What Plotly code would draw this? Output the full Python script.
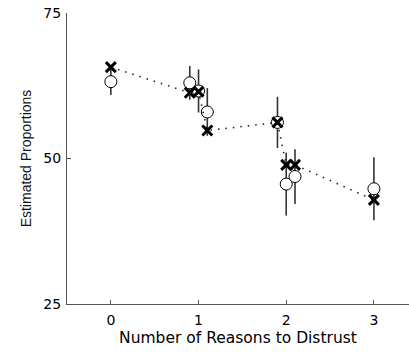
import plotly.graph_objects as go

# Data
x_pos = [0.0, 0.9, 1.0, 1.1, 1.9, 2.0, 2.1, 3.0]
predicted = [65.7, 61.3, 61.5, 54.8, 56.2, 48.9, 48.9, 42.9]
observed = [63.2, 63.0, 61.6, 58.0, 56.2, 45.6, 46.9, 44.8]
observed_err = [2.3, 2.9, 3.7, 4.1, 4.4, 5.4, 4.7, 5.4]
x_ticks = [0, 1, 2, 3]
y_ticks = [25, 50, 75]

fig = go.Figure()

fig.add_trace(go.Scatter(
    x=x_pos, y=observed, mode="markers",
    marker=dict(symbol="circle", size=12, color="white",
                line=dict(color="black", width=1)),
    error_y=dict(type="data", array=observed_err, visible=True,
                 width=0, thickness=1.6, color="#333333"),
    showlegend=False,
))

fig.add_trace(go.Scatter(
    x=x_pos, y=predicted, mode="lines+markers",
    line=dict(color="#222222", width=1.6, dash="1.5px,6px"),
    marker=dict(symbol="x-thin", size=10, color="black",
                line=dict(color="black", width=3)),
    showlegend=False,
))

fig.update_layout(
    width=409, height=354,
    margin=dict(l=67, r=0, t=13, b=50),
    paper_bgcolor="white", plot_bgcolor="white",
    font=dict(family="DejaVu Sans, Arial, sans-serif", size=14, color="black"),
    xaxis=dict(
        range=[-0.5, 3.4], tickvals=x_ticks, ticktext=[str(t) for t in x_ticks],
        showline=True, linecolor="#555555", linewidth=1.2,
        ticks="inside", ticklen=4, tickcolor="#555555",
        showgrid=False, zeroline=False, automargin=False,
        ticklabelstandoff=3,
        title=dict(text="Number of Reasons to Distrust",
                   font=dict(size=15.5), standoff=5),
    ),
    yaxis=dict(
        range=[25, 75], tickvals=y_ticks, ticktext=[str(t) for t in y_ticks],
        showline=True, linecolor="#555555", linewidth=1.2,
        ticks="inside", ticklen=4, tickcolor="#555555",
        showgrid=False, zeroline=False, automargin=False,
        ticklabelstandoff=2,
        title=dict(text="Estimated Proportions",
                   font=dict(size=14, family="Liberation Sans, Arial, sans-serif",
                             color="#111111"),
                   standoff=8),
    ),
)

fig.write_html("out.html",
               config={"displayModeBar": False},
               post_script="document.body.style.margin='0';document.body.style.padding='0';")
